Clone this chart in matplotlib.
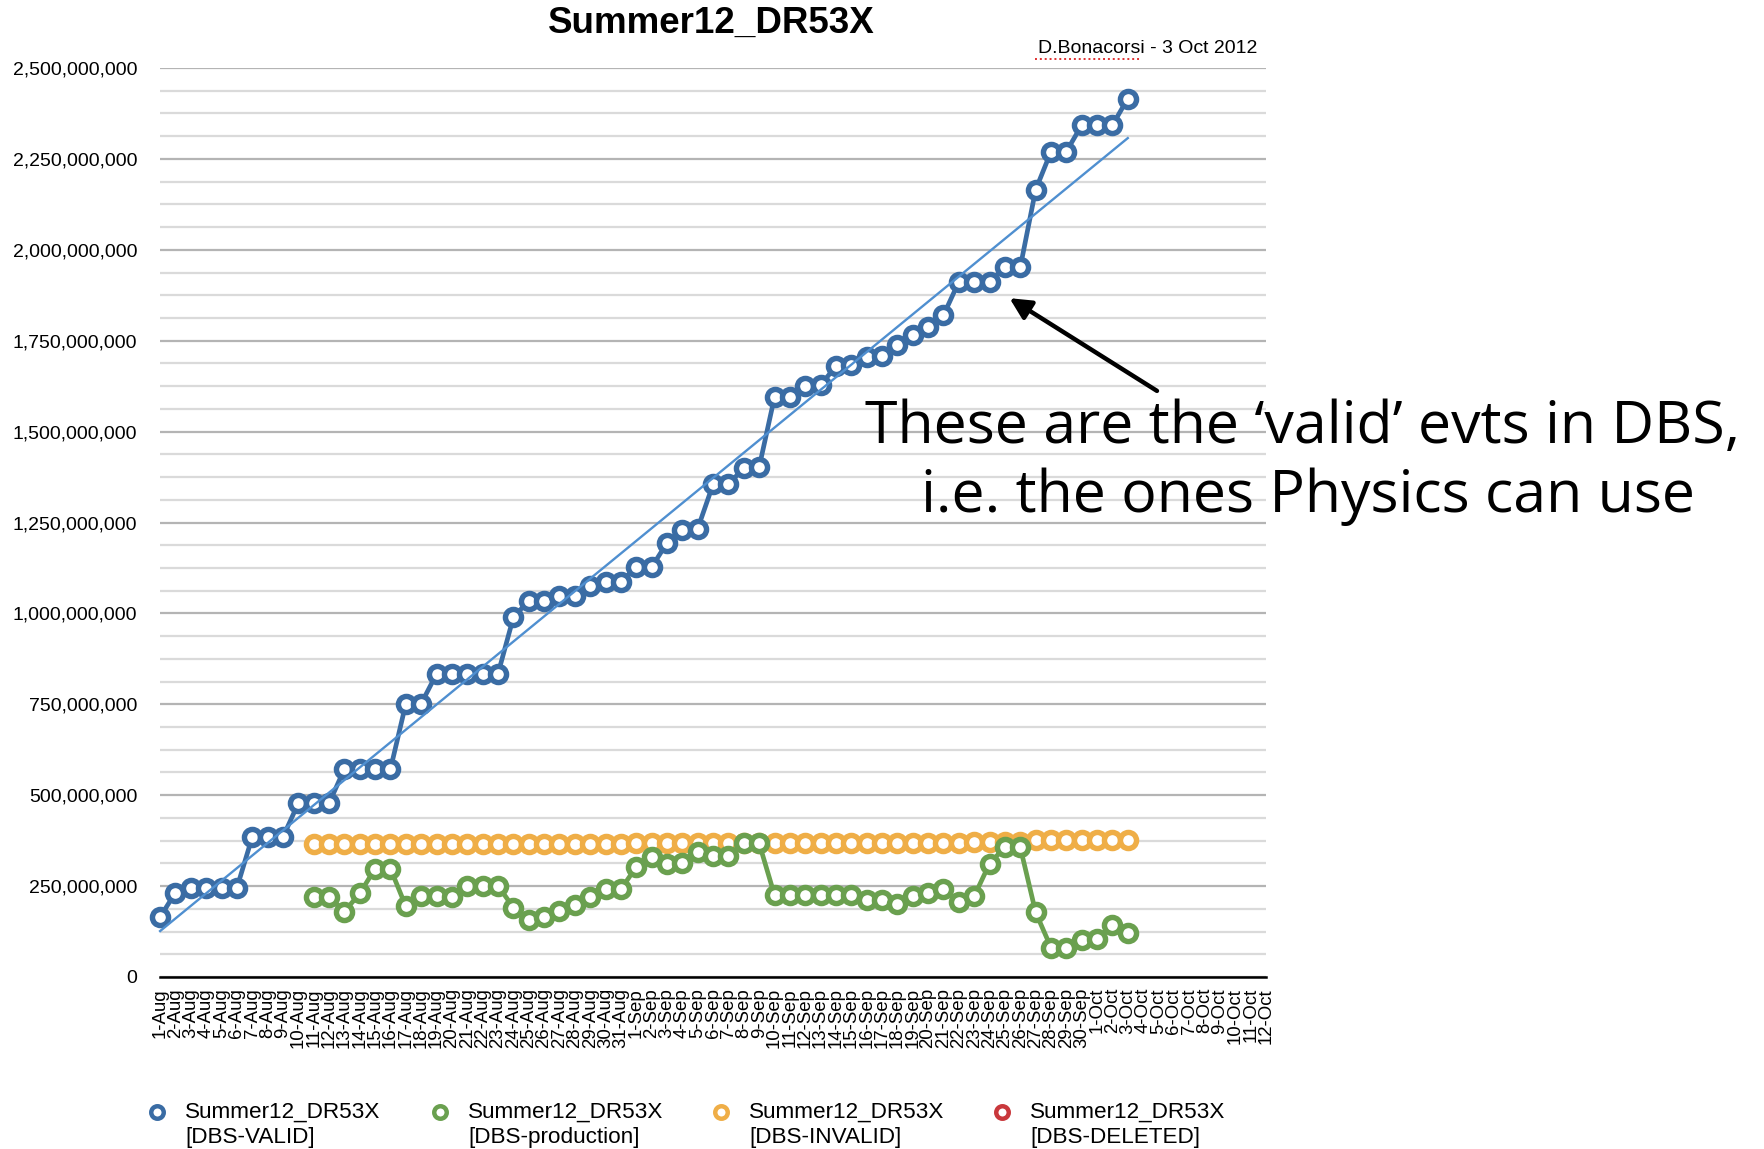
import matplotlib
matplotlib.use("Agg")
import matplotlib.pyplot as plt
from matplotlib.lines import Line2D
from matplotlib.ticker import MultipleLocator, FuncFormatter
import numpy as np
import pandas as pd

plt.rcParams['font.family'] = ['Liberation Sans', 'DejaVu Sans']

# categories: one per day, 1-Aug .. 12-Oct 2012
DAYS = [d.strftime('%d-%b').lstrip('0') for d in pd.date_range('2012-08-01', '2012-10-12')]

# events in millions
VALID = [165, 232, 245, 245, 245, 245, 385, 385, 385, 478, 478, 478, 572, 572, 572, 572,
         752, 752, 834, 834, 834, 834, 834, 989, 1035, 1035, 1049, 1049, 1076, 1087, 1087,
         1127, 1127, 1194, 1229, 1233, 1355, 1355, 1400, 1402, 1595, 1595, 1625, 1628, 1680,
         1682, 1705, 1708, 1738, 1765, 1787, 1820, 1912, 1912, 1912, 1952, 1952, 2165, 2270,
         2270, 2343, 2343, 2343, 2416]
PROD_START = 10  # 11-Aug
PRODUCTION = [219, 219, 180, 230, 298, 298, 194, 222, 222, 219, 251, 251, 251, 191, 157, 165,
              182, 198, 219, 241, 241, 303, 329, 312, 314, 343, 334, 334, 368, 368, 225, 225,
              225, 225, 225, 225, 211, 211, 201, 222, 230, 241, 206, 222, 312, 357, 357, 178,
              81, 81, 102, 104, 144, 120]
INVALID = [366, 366, 366, 366, 366, 366, 366, 366, 366, 366, 366, 366, 366, 366, 366, 366,
           366, 366, 366, 366, 366, 368, 368, 368, 368, 368, 368, 368, 368, 368, 368, 368,
           368, 368, 368, 368, 368, 368, 368, 368, 368, 368, 368, 370, 370, 370, 370, 377,
           377, 377, 377, 377, 377, 377]
DELETED = []

BLUE = '#3a6ca4'
GREEN = '#6aa04f'
ORANGE = '#efae47'
RED = '#c9383c'
TREND = '#4f8fd0'

fig = plt.figure(figsize=(17.65, 11.49), dpi=100)
ax = fig.add_axes([0.0907, 0.1497, 0.6266, 0.7911])

x_valid = np.arange(len(VALID))
x_other = np.arange(PROD_START, PROD_START + len(PRODUCTION))
mult = 1e6

style = dict(marker='o', markersize=11.6, markeredgewidth=3.9, markerfacecolor='white',
             linewidth=3.4, clip_on=False)
ax.plot(x_other, np.array(INVALID) * mult, color=ORANGE, markeredgecolor=ORANGE, zorder=3, **style)
ax.plot(x_other, np.array(PRODUCTION) * mult, color=GREEN, markeredgecolor=GREEN, zorder=4, **style)
ax.plot(x_valid, np.array(VALID) * mult, color=BLUE, markeredgecolor=BLUE, zorder=5, **style)

# linear trend of the valid events
k, b = np.polyfit(x_valid, np.array(VALID) * mult, 1)
ax.plot([x_valid[0], x_valid[-1]], [k * x_valid[0] + b, k * x_valid[-1] + b],
        color=TREND, lw=1.7, zorder=6, clip_on=False)

ax.set_xlim(0, len(DAYS) - 1)
ax.set_ylim(0, 2.5e9)
ax.set_xticks(np.arange(len(DAYS)))
ax.set_xticklabels(DAYS, rotation=90, fontsize=13.4)
ax.yaxis.set_major_locator(MultipleLocator(2.5e8))
ax.yaxis.set_minor_locator(MultipleLocator(6.25e7))
ax.yaxis.set_major_formatter(FuncFormatter(lambda v, p: '{:,.0f}'.format(v)))
ax.tick_params(axis='y', which='both', length=0, pad=16.5, labelsize=14)
ax.tick_params(axis='x', length=0, pad=8)
ax.grid(which='major', axis='y', color='#b4b4b4', lw=1.6)
ax.grid(which='minor', axis='y', color='#dadada', lw=1.6)
ax.set_axisbelow(True)
for s in ['top', 'right', 'left']:
    ax.spines[s].set_visible(False)
ax.spines['bottom'].set_color('black')
ax.spines['bottom'].set_linewidth(1.8)
ax.spines['bottom'].set_zorder(2)

fig.text(0.403, 0.980, 'Summer12_DR53X', ha='center', va='center', fontsize=26.5, fontweight='bold')
fig.text(0.7122, 0.9582, 'D.Bonacorsi - 3 Oct 2012', ha='right', va='center', fontsize=14)
fig.add_artist(Line2D([0.5864, 0.6459], [0.9487, 0.9487], transform=fig.transFigure,
                      color='#e03030', lw=1.4, ls=(0, (1, 1.5))))

# callout
fig.text(0.738, 0.6275, 'These are the \u2018valid\u2019 evts in DBS,', ha='center', va='center',
         fontsize=42.5, family=['Open Sans', 'DejaVu Sans'])
fig.text(0.741, 0.568, 'i.e. the ones Physics can use', ha='center', va='center',
         fontsize=42.5, family=['Open Sans', 'DejaVu Sans'])
ax.annotate('', xy=(55.3, 1.867e9), xytext=(64.9, 1.612e9), annotation_clip=False,
            arrowprops=dict(arrowstyle='-|>', lw=3.2, color='black', mutation_scale=32,
                            shrinkA=0, shrinkB=0))

# legend
entries = [(BLUE, '[DBS-VALID]'), (GREEN, '[DBS-production]'),
           (ORANGE, '[DBS-INVALID]'), (RED, '[DBS-DELETED]')]
mx = [157, 440, 721, 1002]
for (c, lab), px in zip(entries, mx):
    fx = px / 1765
    fig.add_artist(Line2D([fx], [1 - 1112 / 1149], transform=fig.transFigure, marker='o',
                          markersize=9, markeredgewidth=3.2, markerfacecolor='white',
                          markeredgecolor=c, ls='none'))
    fig.text((px + 28) / 1765, 1 - 1112 / 1149, 'Summer12_DR53X', ha='left', va='center', fontsize=16.2)
    fig.text((px + 28) / 1765, 1 - 1138 / 1149, lab, ha='left', va='center', fontsize=16.2)

fig.savefig('out.png', dpi=100)
